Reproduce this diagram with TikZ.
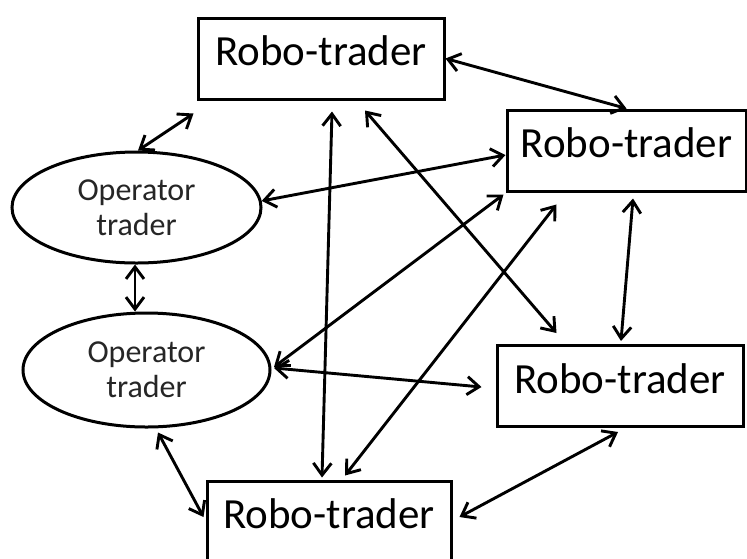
\documentclass[tikz,border=0pt]{standalone}
\usepackage{fontspec}
\setmainfont{Carlito}
\usetikzlibrary{arrows.meta,shapes.geometric,calc}

\tikzset{
  robo/.style={draw, line width=3pt, inner sep=0pt,
    minimum height=81pt, text height=28pt, text depth=14pt,
    font=\fontsize{43}{50}\selectfont},
  oper/.style={ellipse, draw, line width=3pt, inner sep=0pt,
    align=center, text=black!85,
    font=\fontsize{32}{35}\selectfont},
  link/.style={line width=2.9pt,
    {Straight Barb[length=12pt,width=18pt]}-{Straight Barb[length=12pt,width=18pt]}}
}

\begin{document}
\begin{tikzpicture}[x=1pt,y=-1pt]
\useasboundingbox (0,0) rectangle (747,558);
\fill[white] (0,0) rectangle (747,558);

% traders
\node[robo, minimum width=246pt] (T)  at (321,58.5)  {Robo-trader};
\node[robo, minimum width=239pt] (R)  at (626.5,150.5) {Robo-trader};
\node[robo, minimum width=246pt] (LR) at (620,386)   {Robo-trader};
\node[robo, minimum width=244pt] (B)  at (329,521.5) {Robo-trader};
\node[oper, minimum width=249pt, minimum height=111pt] (E1) at (136.5,207.5) {Operator\\trader};
\node[oper, minimum width=247pt, minimum height=114pt] (E2) at (146.5,370) {Operator\\trader};

% links
\draw[link] ([xshift=1.5pt]E1.north) -- ([xshift=-3pt,yshift=-13pt]T.south west);
\draw[link] (T.east) -- (R.north);
\draw[link] (E1.3) -- ([yshift=-4.5pt]R.west);
\draw[link] ([xshift=11pt,yshift=-11pt]T.south) -- ([xshift=-7pt,yshift=2pt]B.north);
\draw[link] ([xshift=44pt,yshift=-10pt]T.south) -- ([xshift=61pt,yshift=11pt]LR.north west);
\draw[link] ([xshift=6.5pt,yshift=-6pt]R.south) -- ([xshift=1pt,yshift=3pt]LR.north);
\draw[link] ([xshift=-2pt,yshift=-2pt]R.south west) -- ([xshift=2.5pt,yshift=3pt]E2.east);
\draw[link] ([xshift=51pt,yshift=-12pt]R.south west) -- ([xshift=16pt,yshift=4pt]B.north);
\draw[link] ([xshift=2.5pt,yshift=2pt]E2.east) -- ([xshift=-14pt,yshift=-1pt]LR.west);
\draw[link] ([xshift=11.5pt,yshift=-4pt]E2.south) -- ([xshift=-2pt,yshift=4.5pt]B.west);
\draw[link] ([xshift=-2pt,yshift=-4pt]LR.south) -- ([xshift=7pt,yshift=4.5pt]B.east);
\draw[link] ([xshift=-1.5pt]E1.south) -- ([xshift=-1.5pt]E1.south |- E2.north);
\end{tikzpicture}
\end{document}
